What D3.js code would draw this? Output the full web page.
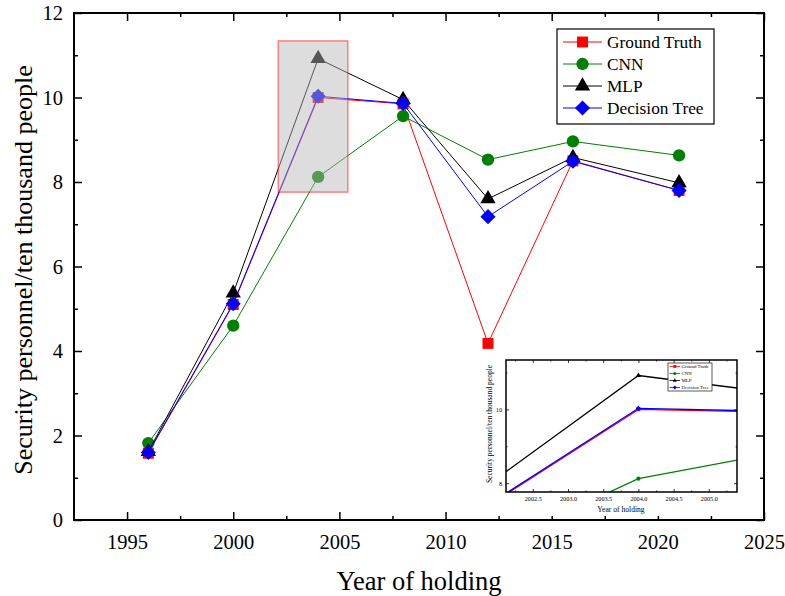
<!DOCTYPE html>
<html>
<head>
<meta charset="utf-8">
<script src="https://cdn.jsdelivr.net/npm/d3@7"></script>
<style>
  body { margin: 0; background: #fff; }
  svg { display: block; }
</style>
</head>
<body>
<script>
const width = 785;
const height = 596;
const serif = "Liberation Serif";

// data
const years = [1996, 2000, 2004, 2008, 2012, 2016, 2021];
const groundTruth = [1.58, 5.10, 10.00, 9.85, 4.18, 8.50, 7.80];
const cnn = [1.82, 4.60, 8.12, 9.56, 8.53, 8.96, 8.63];
const mlp = [1.62, 5.37, 10.92, 9.95, 7.60, 8.58, 7.98];
const decisionTree = [1.60, 5.12, 10.03, 9.86, 7.18, 8.49, 7.80];

const seriesNames = ["Ground Truth", "CNN", "MLP", "Decision Tree"];
const seriesValues = [groundTruth, cnn, mlp, decisionTree];
const seriesColors = ["#ff0000", "#008000", "#000000", "#0000ff"];

const xTicks = [1995, 2000, 2005, 2010, 2015, 2020, 2025];
const yTicks = [0, 2, 4, 6, 8, 10, 12];
const zoomXTicks = [2002.5, 2003.0, 2003.5, 2004.0, 2004.5, 2005.0];
const zoomYTicks = [8, 10];
const zoomX = [2002.12, 2005.40];
const zoomY = [7.76, 11.34];

const svg = d3.select("body")
    .append("svg")
    .attr("width", width)
    .attr("height", height)
    .attr("font-family", serif);

// main scales
const x = d3.scaleLinear().domain([1992.5, 2025]).range([74, 764]);
const y = d3.scaleLinear().domain([0, 12]).range([520, 13]);

function symbolFor(i, size) {
    if (i == 0) return d3.symbol(d3.symbolSquare, size)();
    if (i == 1) return d3.symbol(d3.symbolCircle, size)();
    if (i == 2) return d3.symbol(d3.symbolTriangle, size * 0.85)();
    return d3.symbol(d3.symbolSquare, size * 0.95)();
}

function drawSeries(g, xs, ys, lineW, markSize) {
    seriesValues.forEach(function(vals, i) {
        const pts = years.map((yr, k) => [yr, vals[k]]);
        const line = d3.line().x(d => xs(d[0])).y(d => ys(d[1]));
        g.append("path")
            .attr("d", line(pts))
            .attr("fill", "none")
            .attr("stroke", seriesColors[i])
            .attr("stroke-width", lineW);
        g.selectAll(null)
            .data(pts)
            .enter()
            .append("path")
            .attr("d", symbolFor(i, markSize))
            .attr("transform", d => "translate(" + xs(d[0]) + "," + ys(d[1]) + ")" + (i == 3 ? " rotate(45)" : ""))
            .attr("fill", seriesColors[i]);
    });
}

function addText(g, txt, size) {
    return g.append("text")
        .attr("font-family", serif)
        .attr("font-size", size)
        .text(txt);
}

function drawAxes(g, xs, ys, o) {
    const [x0, x1] = xs.range();
    const [y0, y1] = ys.range();
    const ax = [
        [d3.axisBottom, "translate(0," + y0 + ")", xs],
        [d3.axisTop, "translate(0," + y1 + ")", xs],
        [d3.axisLeft, "translate(" + x0 + ",0)", ys],
        [d3.axisRight, "translate(" + x1 + ",0)", ys]
    ];
    ax.forEach(function(a, k) {
        const isX = k < 2;
        const major = a[0](a[2])
            .tickValues(isX ? o.xTicks : o.yTicks)
            .tickSize(-o.major)
            .tickSizeOuter(0)
            .tickPadding(isX ? o.xPad : o.yPad)
            .tickFormat(k == 0 ? o.xFmt : (k == 2 ? o.yFmt : ""));
        const minor = a[0](a[2])
            .tickValues(isX ? o.xMinor : o.yMinor)
            .tickSize(-o.minor)
            .tickSizeOuter(0)
            .tickFormat("");
        const gm = g.append("g").attr("transform", a[1]).call(major);
        const gn = g.append("g").attr("transform", a[1]).call(minor);
        [gm, gn].forEach(function(s) {
            s.attr("font-family", serif).attr("font-size", o.fontSize);
            s.select(".domain").remove();
            s.selectAll("line").attr("stroke", "#000").attr("stroke-width", o.tickW);
            s.selectAll("text")
                .attr("fill", "#000")
                .attr("font-family", serif)
                .attr("font-size", o.fontSize);
        });
    });
    g.append("rect")
        .attr("x", x0).attr("y", y1)
        .attr("width", x1 - x0).attr("height", y0 - y1)
        .attr("fill", "none")
        .attr("stroke", "#000")
        .attr("stroke-width", o.frameW);
}

// ---------- main chart ----------
const main = svg.append("g");
main.append("defs").append("clipPath").attr("id", "mainClip")
    .append("rect").attr("x", 74).attr("y", 13).attr("width", 690).attr("height", 507);

const plot = main.append("g").attr("clip-path", "url(#mainClip)");
drawSeries(plot, x, y, 1, 120);

// highlighted zoom region
plot.append("rect")
    .attr("x", x(zoomX[0]))
    .attr("y", y(zoomY[1]))
    .attr("width", x(zoomX[1]) - x(zoomX[0]))
    .attr("height", y(zoomY[0]) - y(zoomY[1]))
    .attr("fill", "rgb(182,182,182)")
    .attr("fill-opacity", 0.47)
    .attr("stroke", "rgba(255,0,0,0.45)")
    .attr("stroke-width", 1.5);

drawAxes(main, x, y, {
    xTicks: xTicks, yTicks: yTicks,
    xMinor: d3.range(1997.5, 2025, 5), yMinor: d3.range(1, 12, 2),
    major: 8, minor: 4, xPad: 14, yPad: 11, tickW: 1.5, frameW: 2,
    xFmt: d3.format("d"), yFmt: d3.format("d"), fontSize: 20.5
});

addText(main, "Year of holding", 26.5)
    .attr("x", 419).attr("y", 590)
    .attr("text-anchor", "middle");

addText(main, "Security personnel/ten thousand people", 26)
    .attr("transform", "translate(32,270) rotate(-90)")
    .attr("text-anchor", "middle");

// legend
const legend = main.append("g").attr("transform", "translate(557,29)");
legend.append("rect")
    .attr("width", 157).attr("height", 95)
    .attr("fill", "#fff").attr("stroke", "#000").attr("stroke-width", 1.2);
seriesNames.forEach(function(name, i) {
    const ly = 13 + i * 22;
    legend.append("line")
        .attr("x1", 6).attr("x2", 45).attr("y1", ly).attr("y2", ly)
        .attr("stroke", seriesColors[i]).attr("stroke-width", 1);
    legend.append("path")
        .attr("d", symbolFor(i, 120))
        .attr("transform", "translate(25.5," + ly + ")" + (i == 3 ? " rotate(45)" : ""))
        .attr("fill", seriesColors[i]);
    addText(legend, name, 17.3)
        .attr("x", 50).attr("y", ly + 6);
});

// ---------- inset ----------
const xi = d3.scaleLinear().domain(zoomX).range([506, 737]);
const yi = d3.scaleLinear().domain(zoomY).range([492, 360]);

const inset = svg.append("g");
inset.append("rect")
    .attr("x", 480).attr("y", 354).attr("width", 262).attr("height", 162)
    .attr("fill", "#fff");
inset.append("defs").append("clipPath").attr("id", "insetClip")
    .append("rect").attr("x", 506).attr("y", 360).attr("width", 231).attr("height", 132);

const iplot = inset.append("g").attr("clip-path", "url(#insetClip)");
drawSeries(iplot, xi, yi, 1.3, 14);

drawAxes(inset, xi, yi, {
    xTicks: zoomXTicks, yTicks: zoomYTicks,
    xMinor: d3.range(2002.25, 2005.4, 0.5), yMinor: [9, 11],
    major: 3, minor: 1.5, xPad: 5, yPad: 4, tickW: 0.8, frameW: 1.5,
    xFmt: d3.format(".1f"), yFmt: d3.format("d"), fontSize: 6.2
});

addText(inset, "Year of holding", 7.6)
    .attr("x", 621).attr("y", 512)
    .attr("text-anchor", "middle");

addText(inset, "Security personnel/ten thousand people", 7.5)
    .attr("transform", "translate(492,424) rotate(-90)")
    .attr("text-anchor", "middle");

const ilegend = inset.append("g").attr("transform", "translate(668,363)");
ilegend.append("rect")
    .attr("width", 44).attr("height", 28)
    .attr("fill", "#fff").attr("stroke", "#333").attr("stroke-width", 0.8);
seriesNames.forEach(function(name, i) {
    const ly = 3.5 + i * 7;
    ilegend.append("line")
        .attr("x1", 1.5).attr("x2", 12).attr("y1", ly).attr("y2", ly)
        .attr("stroke", seriesColors[i]).attr("stroke-width", 0.8);
    ilegend.append("path")
        .attr("d", symbolFor(i, 8))
        .attr("transform", "translate(6.8," + ly + ")" + (i == 3 ? " rotate(45)" : ""))
        .attr("fill", seriesColors[i]);
    addText(ilegend, name, 4.9)
        .attr("x", 13.5).attr("y", ly + 1.7);
});
</script>
</body>
</html>
